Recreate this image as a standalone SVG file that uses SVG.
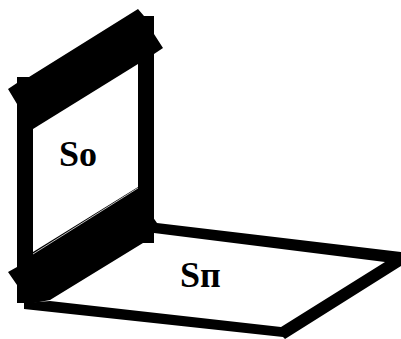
<svg xmlns="http://www.w3.org/2000/svg" width="401" height="339" viewBox="0 0 401 339">
<style>
.b{fill:#000;stroke:none}
.t{font-family:"Liberation Serif","Times New Roman",serif;font-weight:bold;font-size:36px;fill:#000}
</style>
<rect width="401" height="339" fill="#fff"/>
<g id="floor">
<polygon class="b" points="143,243 154,233 385,262 281,327 50,301 24,303 24,309 283,337 285,339 401,266 401,252 157,223 150,213"/>
</g>
<g id="wall">
<polygon class="b" points="17,77 29,77 138,9 144,16 154,16 154,34 163,48 154,54 154,243 143,243 50,300 34,303 17,303 17,285 8,272 17,267 17,104 8,89 17,83"/>
<polygon fill="#fff" points="33,129 138,64 138,187 33,252"/>
<polygon fill="#000" points="33,254 138,188.500 138,191 33,256"/>
<line x1="33" y1="254" x2="138" y2="188" stroke="#bbb" stroke-width="1"/>
</g>
<g id="labels">
<text class="t" x="59" y="166">So</text>
<text class="t" x="180" y="287">Sп</text>
</g>
</svg>
